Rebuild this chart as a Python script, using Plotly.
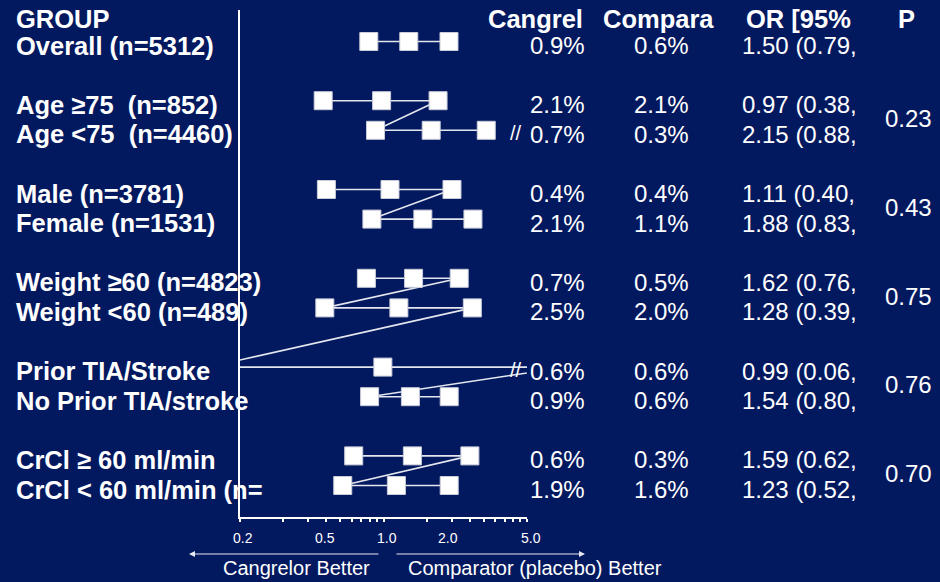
import plotly.graph_objects as go

# ---- data -------------------------------------------------------------
groups = [
    "Overall (n=5312)",
    "Age ≥75\u00a0 (n=852)",
    "Age <75\u00a0 (n=4460)",
    "Male (n=3781)",
    "Female (n=1531)",
    "Weight ≥60 (n=4823)",
    "Weight <60 (n=489)",
    "Prior TIA/Stroke",
    "No Prior TIA/stroke",
    "CrCl ≥ 60 ml/min",
    "CrCl < 60 ml/min (n=",
]
cangrelor_pct = [0.9, 2.1, 0.7, 0.4, 2.1, 0.7, 2.5, 0.6, 0.9, 0.6, 1.9]
comparator_pct = [0.6, 2.1, 0.3, 0.4, 1.1, 0.5, 2.0, 0.6, 0.6, 0.3, 1.6]
odds_ratio = [1.50, 0.97, 2.15, 1.11, 1.88, 1.62, 1.28, 0.99, 1.54, 1.59, 1.23]
ci_lower = [0.79, 0.38, 0.88, 0.40, 0.83, 0.76, 0.39, 0.06, 0.80, 0.62, 0.52]
ci_upper = [2.86, 2.40, 5.20, 3.00, 4.20, 3.37, 4.16, 18.6, 2.87, 4.00, 2.87]
row_slot = [0, 2, 3, 5, 6, 8, 9, 11, 12, 14, 15]
segment = [0, 1, 1, 2, 2, 3, 3, 3, 3, 4, 4]
p_values = ["0.23", "0.43", "0.75", "0.76", "0.70"]
p_rows = [(1, 2), (3, 4), (5, 6), (7, 8), (9, 10)]
headers = ["GROUP", "Cangrel", "Compara", "OR [95%", "P"]
axis_labels = ["0.2", "0.5", "1.0", "2.0", "5.0"]
minor_ticks = [0.1, 0.2, 0.3, 0.4, 0.5, 0.6, 0.7, 0.8, 0.9, 1,
               2, 3, 4, 5, 6, 7, 8, 9, 10]
axis_cap = 5.0

# ---- layout constants ---------------------------------------------------
W, H = 940, 582
L, R, T, B = 240, 413, 10, 65
BG = "#03195F"
FONT = "Liberation Sans, Arial, sans-serif"
WHITE = "#ffffff"


def fx(px):
    return (px - L) / (W - L - R)


def fy(py):
    return (H - B - py) / (H - T - B)


# one polyline through lower / OR / upper of each row, broken between segments
xs, ys = [], []
prev = None
for i in range(len(groups)):
    if prev is not None and segment[i] != prev:
        xs.append(None)
        ys.append(None)
    for v in (ci_lower[i], odds_ratio[i], ci_upper[i]):
        xs.append(v)
        ys.append(row_slot[i])
    prev = segment[i]

fig = go.Figure()
fig.add_trace(go.Scatter(
    x=xs, y=ys, mode="lines+markers",
    line=dict(color="#e4e6ee", width=1.6),
    marker=dict(symbol="square", size=18, color=WHITE,
                line=dict(color="#c9ccd8", width=1)),
    connectgaps=False, hoverinfo="skip", showlegend=False,
))

ann = []


def text(x_px, y, s, size=24, bold=False, anchor="left", yref="y", yshift=-4):
    ann.append(dict(
        x=fx(x_px), xref="paper", y=y, yref=yref, yshift=yshift,
        text=f"<b>{s}</b>" if bold else s, showarrow=False,
        xanchor=anchor, yanchor="middle",
        font=dict(family=FONT, size=size, color=WHITE),
    ))


# header row
hdr_x = [(14, "left"), (486, "left"), (601, "left"), (744, "left"), (907, "center")]
for (px, anc), h in zip(hdr_x, headers):
    text(px, -1, h, size=25.5, bold=True, anchor=anc, yshift=-7)

# table rows
for i, g in enumerate(groups):
    s = row_slot[i]
    text(14, s, g, size=25.5, bold=True)
    text(528, s, f"{cangrelor_pct[i]:.1f}%")
    text(632, s, f"{comparator_pct[i]:.1f}%")
    text(740, s, f"{odds_ratio[i]:.2f} ({ci_lower[i]:.2f},")
    if ci_upper[i] > axis_cap:
        text(516, s, "//", size=20, anchor="center", yshift=-3)

# interaction p-values
for p, (a, b) in zip(p_values, p_rows):
    text(908, (row_slot[a] + row_slot[b]) / 2, p, anchor="center", yshift=-3)

# scale labels under the axis
for px, lab in zip([243, 325, 387, 448, 531], axis_labels):
    ann.append(dict(x=fx(px), xref="paper", y=fy(538), yref="paper",
                    text=lab, showarrow=False, xanchor="center", yanchor="middle",
                    font=dict(family=FONT, size=14, color=WHITE)))

# direction arrows and captions
for head, tail in [(189, 380), (585, 395)]:
    ann.append(dict(x=fx(head), xref="paper", y=fy(554), yref="paper",
                    ax=tail - head, ay=0, text="", showarrow=True,
                    arrowhead=2, arrowsize=1, arrowwidth=1.2, arrowcolor="#e8e8f0"))
for px, cap in [(296, "Cangrelor Better"), (535, "Comparator (placebo) Better")]:
    ann.append(dict(x=fx(px), xref="paper", y=fy(568), yref="paper",
                    text=cap, showarrow=False, xanchor="center", yanchor="middle",
                    font=dict(family=FONT, size=20, color=WHITE)))

top_slot = -31.5 / 29.6
bottom_slot = 475.5 / 29.6

fig.update_layout(
    width=W, height=H,
    margin=dict(l=L, r=R, t=T, b=B),
    paper_bgcolor=BG, plot_bgcolor=BG,
    annotations=ann,
    xaxis=dict(type="log", range=[-1, 1], showgrid=False, zeroline=False,
               showline=True, linecolor=WHITE, linewidth=2,
               ticks="outside", ticklen=3, tickwidth=1.5, tickcolor=WHITE,
               tickvals=minor_ticks, showticklabels=False),
    yaxis=dict(range=[bottom_slot, top_slot], showgrid=False, zeroline=False,
               showline=True, linecolor=WHITE, linewidth=2,
               ticks="", showticklabels=False),
)

fig.write_html("out.html")
